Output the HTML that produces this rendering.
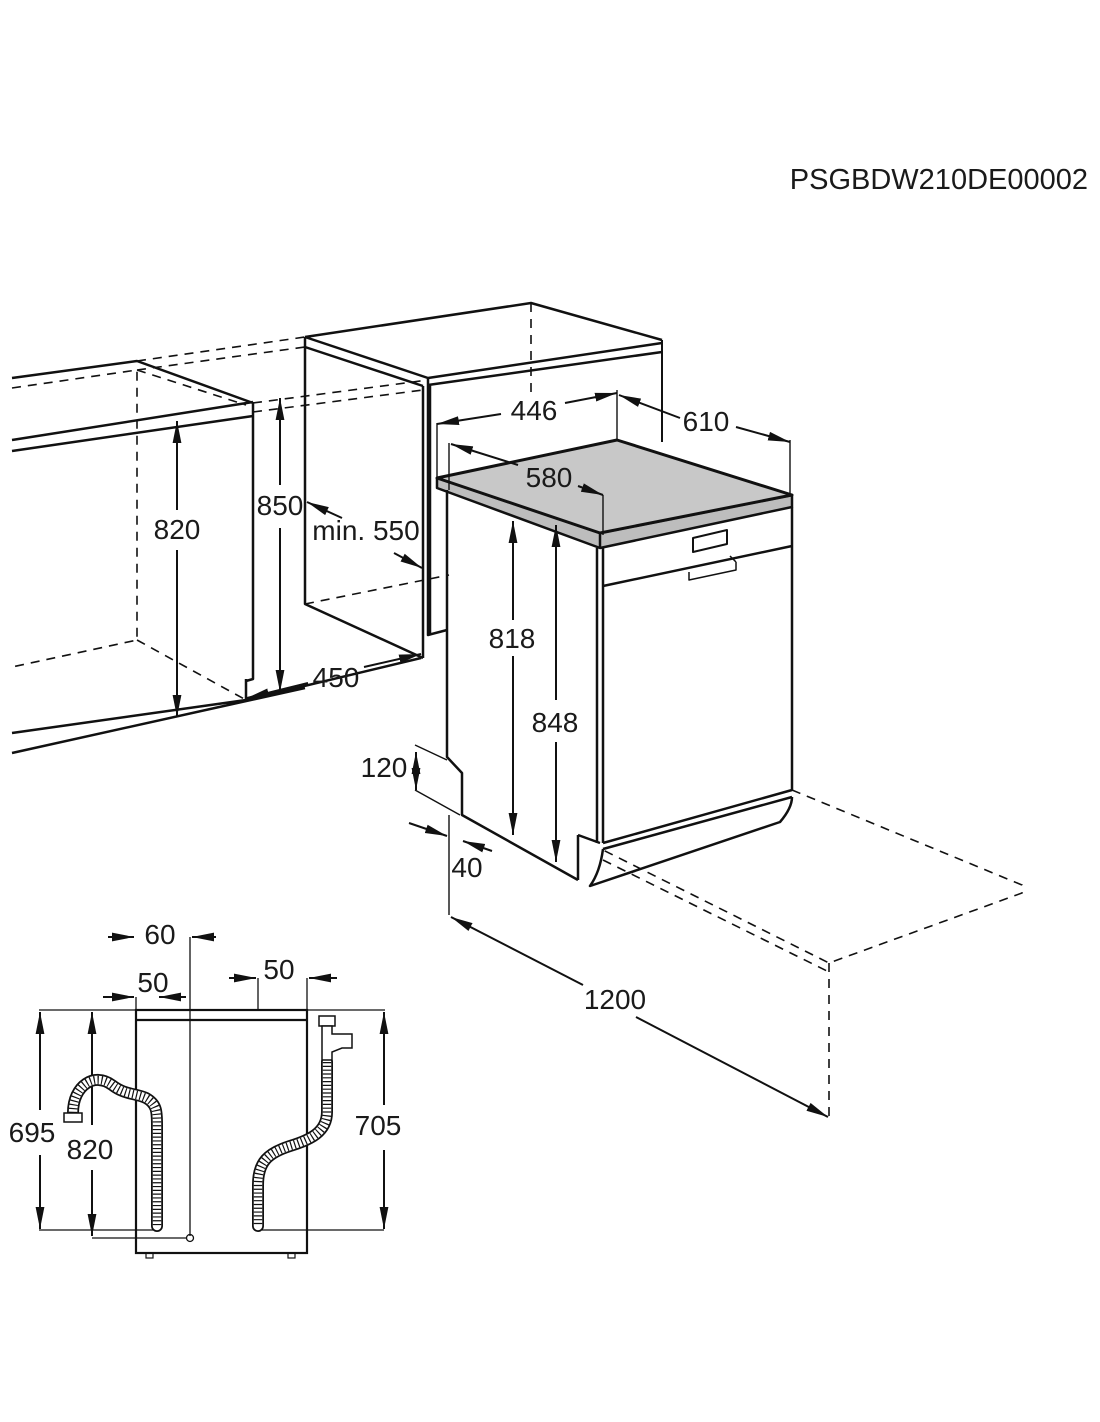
<!DOCTYPE html>
<html><head><meta charset="utf-8"><style>
html,body{margin:0;padding:0;background:#fff}
svg{display:block}
text{font-family:"Liberation Sans",Arial,sans-serif;font-size:28px;fill:#1a1a1a}
</style></head><body>
<svg width="1100" height="1422" viewBox="0 0 1100 1422" xmlns="http://www.w3.org/2000/svg">
<defs>
<marker id="b" viewBox="0 0 20 10" refX="20" refY="5" markerWidth="22" markerHeight="11" orient="auto-start-reverse" markerUnits="userSpaceOnUse"><path d="M0,1 L20,5 L0,9z" fill="#111"/></marker>
</defs>
<text x="1088" y="189" text-anchor="end" style="font-size:29px">PSGBDW210DE00002</text>

<g stroke="#111" fill="none" stroke-width="2.5" stroke-linejoin="round">
<path d="M12,378 L137,361 L253,403 M12,440 L253,402 M12,451 L253,416 M253,402 V679 L246,681 M246,679 V700 M12,733 L246,700 L421,658 M12,753 L305,688"/>
<path d="M305,337 L531,303 L662,340 M305,337 L428,378 L662,343 M428,385 L662,352 M305,347 L423,386 M305,337 V604 L423,658 M423,386 V658 M428,378 V635 L447,630 M430,385 V635"/>
<line x1="662" y1="340" x2="662" y2="442" stroke-width="2"/>
</g>
<g stroke="#111" fill="none" stroke-width="1.6" stroke-dasharray="9,7">
<path d="M12,388 L137,370 V640 L12,667 M137,370 L246,405 M137,640 L246,700 M137,361 L305,337 M253,403 L428,380 M531,303 V398 M305,604 L449,575 M137,370 L305,347 M253,412 L423,390"/>
<path d="M792,790 L1022,885 V893 L829,963 L603,850 M603,860 L829,972 M829,963 V1117"/>
</g>

<!-- dishwasher -->
<polygon points="437,488 600,548 792,507 792,495 600,533 437,478" fill="#bdbdbd" stroke="#111" stroke-width="2.5" stroke-linejoin="round"/>
<polygon points="437,478 617,440 792,495 600,533" fill="#c8c8c8" stroke="#111" stroke-width="3" stroke-linejoin="round"/>
<g stroke="#111" fill="none" stroke-width="2.5" stroke-linejoin="round">
<path d="M600,533 V548"/>
<path d="M447,490 V757 L462,773 V815 L578,880 M597,548 V843 M603,548 V843 M792,507 V790 M603,843 L792,790 M603,849 L792,797" />
<path d="M578,835 V880 M578,835 L600,843 M603,849 Q600,872 590,886 L780,822 Q792,808 792,797"/>
<path d="M603,586 L792,546"/>
<path d="M693,538 L727,530 V544 L693,552 Z" stroke-width="2"/>
<path d="M689,572 V580 L736,570 V562 M736,562 L730,556" stroke-width="1.5"/>
</g>

<g stroke="#111" fill="none" stroke-width="2">
<path d="M437,423 V478 M617,390 V440 M449,443 V490 M603,495 V535 M790,440 V495 M449,815 V915" stroke-width="1.4"/>
<line x1="501" y1="414" x2="437" y2="424" marker-end="url(#b)"/>
<line x1="565" y1="403" x2="617" y2="393" marker-end="url(#b)"/>
<line x1="680" y1="418" x2="619" y2="395" marker-end="url(#b)"/>
<line x1="736" y1="427" x2="790" y2="442" marker-end="url(#b)"/>
<line x1="518" y1="465" x2="451" y2="444" marker-end="url(#b)"/>
<line x1="578" y1="486" x2="603" y2="495" marker-end="url(#b)"/>
<line x1="513" y1="620" x2="513" y2="521" marker-end="url(#b)"/>
<line x1="513" y1="656" x2="513" y2="835" marker-end="url(#b)"/>
<line x1="556" y1="700" x2="556" y2="525" marker-end="url(#b)"/>
<line x1="556" y1="742" x2="556" y2="862" marker-end="url(#b)"/>
<line x1="416" y1="770" x2="416" y2="752" marker-end="url(#b)"/>
<line x1="416" y1="770" x2="416" y2="790" marker-end="url(#b)"/>
<path d="M415,745 L447,760 M415,790 L460,815" stroke-width="1.4"/>
<line x1="409" y1="823" x2="447" y2="836" marker-end="url(#b)"/>
<line x1="492" y1="851" x2="463" y2="841" marker-end="url(#b)"/>
<line x1="583" y1="985" x2="451" y2="917" marker-end="url(#b)"/>
<line x1="636" y1="1017" x2="828" y2="1117" marker-end="url(#b)"/>
<line x1="177" y1="510" x2="177" y2="421" marker-end="url(#b)"/>
<line x1="177" y1="550" x2="177" y2="717" marker-end="url(#b)"/>
<line x1="280" y1="485" x2="280" y2="398" marker-end="url(#b)"/>
<line x1="280" y1="528" x2="280" y2="692" marker-end="url(#b)"/>
<line x1="342" y1="518" x2="307" y2="502" marker-end="url(#b)"/>
<line x1="394" y1="553" x2="422" y2="568" marker-end="url(#b)"/>
<line x1="308" y1="683" x2="247" y2="698" marker-end="url(#b)"/>
<line x1="364" y1="667" x2="421" y2="654" marker-end="url(#b)"/>
</g>

<text x="534" y="420" text-anchor="middle">446</text>
<text x="706" y="431" text-anchor="middle">610</text>
<text x="549" y="487" text-anchor="middle">580</text>
<text x="512" y="648" text-anchor="middle">818</text>
<text x="555" y="732" text-anchor="middle">848</text>
<text x="384" y="777" text-anchor="middle">120</text>
<text x="467" y="877" text-anchor="middle">40</text>
<text x="615" y="1009" text-anchor="middle">1200</text>
<text x="177" y="539" text-anchor="middle">820</text>
<text x="280" y="515" text-anchor="middle">850</text>
<text x="366" y="540" text-anchor="middle">min. 550</text>
<text x="336" y="687" text-anchor="middle">450</text>

<g stroke="#111" fill="none">
<rect x="136" y="1010" width="171" height="243" stroke-width="2.2"/>
<line x1="136" y1="1020" x2="307" y2="1020" stroke-width="2.2"/>
<path d="M39,1010 H385 M136,997 V1010 M190,937 V1236 M258,978 V1010 M307,978 V1010 M39,1230 H157 M92,1238 H187 M262,1230 H384" stroke-width="1.3"/>
<rect x="146" y="1253" width="7" height="5" stroke-width="1.2"/>
<rect x="288" y="1253" width="7" height="5" stroke-width="1.2"/>
<circle cx="190" cy="1238" r="3.5" stroke-width="1.3"/>
<g stroke-width="2">
<line x1="108" y1="937" x2="134" y2="937" marker-end="url(#b)"/>
<line x1="216" y1="937" x2="192" y2="937" marker-end="url(#b)"/>
<line x1="103" y1="997" x2="134" y2="997" marker-end="url(#b)"/>
<line x1="186" y1="997" x2="159" y2="997" marker-end="url(#b)"/>
<line x1="229" y1="978" x2="256" y2="978" marker-end="url(#b)"/>
<line x1="337" y1="978" x2="309" y2="978" marker-end="url(#b)"/>
<line x1="40" y1="1110" x2="40" y2="1012" marker-end="url(#b)"/>
<line x1="40" y1="1155" x2="40" y2="1229" marker-end="url(#b)"/>
<line x1="92" y1="1125" x2="92" y2="1012" marker-end="url(#b)"/>
<line x1="92" y1="1170" x2="92" y2="1236" marker-end="url(#b)"/>
<line x1="384" y1="1105" x2="384" y2="1012" marker-end="url(#b)"/>
<line x1="384" y1="1150" x2="384" y2="1229" marker-end="url(#b)"/>
</g>
<g stroke-linecap="round">
<path d="M73,1113 C73,1085 95,1072 112,1085 C125,1095 135,1093 146,1098 C157,1104 157,1112 157,1125 V1226" stroke="#111" stroke-width="12"/>
<path d="M73,1113 C73,1085 95,1072 112,1085 C125,1095 135,1093 146,1098 C157,1104 157,1112 157,1125 V1226" stroke="#fff" stroke-width="8.5"/>
<path d="M73,1113 C73,1085 95,1072 112,1085 C125,1095 135,1093 146,1098 C157,1104 157,1112 157,1125 V1226" stroke="#111" stroke-width="8.5" stroke-dasharray="1.2,2.6" stroke-linecap="butt"/>
<path d="M327,1062 V1112 C327,1132 310,1140 290,1146 C268,1153 258,1162 258,1185 V1226" stroke="#111" stroke-width="12"/>
<path d="M327,1062 V1112 C327,1132 310,1140 290,1146 C268,1153 258,1162 258,1185 V1226" stroke="#fff" stroke-width="8.5"/>
<path d="M327,1062 V1112 C327,1132 310,1140 290,1146 C268,1153 258,1162 258,1185 V1226" stroke="#111" stroke-width="8.5" stroke-dasharray="1.2,2.6" stroke-linecap="butt"/>
</g>
<rect x="64" y="1113" width="18" height="9" fill="#fff" stroke-width="1.5"/>
<rect x="319" y="1016" width="16" height="10" fill="#fff" stroke-width="1.5"/>
<path d="M322,1026 V1060 H332 V1052 L342,1048 H352 V1034 H332 V1026 Z" fill="#fff" stroke-width="1.5"/>
</g>
<text x="160" y="944" text-anchor="middle">60</text>
<text x="153" y="992" text-anchor="middle">50</text>
<text x="279" y="979" text-anchor="middle">50</text>
<text x="32" y="1142" text-anchor="middle">695</text>
<text x="90" y="1159" text-anchor="middle">820</text>
<text x="378" y="1135" text-anchor="middle">705</text>
</svg>
</body></html>
